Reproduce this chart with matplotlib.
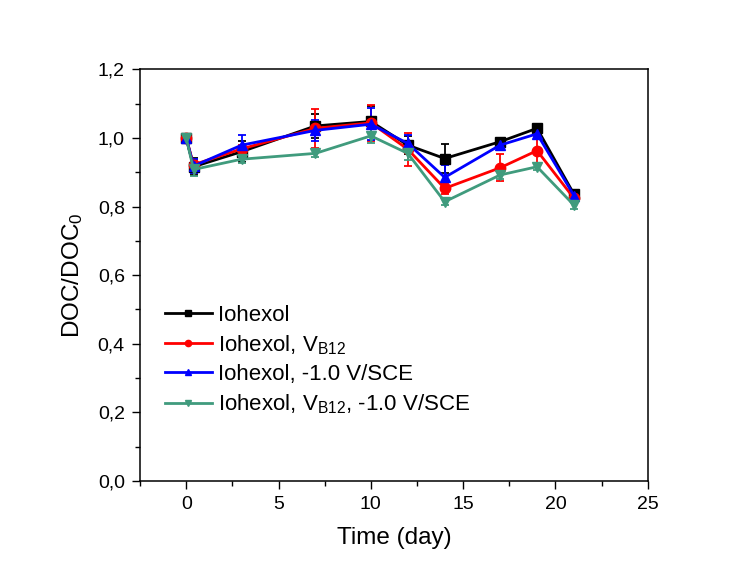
import matplotlib
matplotlib.use("Agg")
import matplotlib.pyplot as plt
from matplotlib.lines import Line2D
from matplotlib.ticker import FuncFormatter, MultipleLocator

plt.rcParams['font.family'] = ['Liberation Sans', 'DejaVu Sans']
plt.rcParams['mathtext.fontset'] = 'custom'
plt.rcParams['mathtext.rm'] = 'Liberation Sans'
plt.rcParams['mathtext.it'] = 'Liberation Sans'

# Data
time = [0, 0.4, 3, 7, 10, 12, 14, 17, 19, 21]

iohexol = [1.0, 0.916, 0.960, 1.035, 1.048, 0.979, 0.940, 0.989, 1.028, 0.836]
iohexol_err = [0.01, 0.025, 0.03, 0.035, 0.045, 0.027, 0.041, 0.01, 0.012, 0.01]

vb12 = [1.0, 0.922, 0.968, 1.028, 1.044, 0.967, 0.853, 0.913, 0.963, 0.824]
vb12_err = [0.01, 0.015, 0.012, 0.056, 0.052, 0.048, 0.015, 0.039, 0.04, 0.012]

volt = [1.0, 0.918, 0.979, 1.022, 1.040, 0.984, 0.885, 0.979, 1.012, 0.832]
volt_err = [0.01, 0.02, 0.031, 0.03, 0.046, 0.025, 0.035, 0.015, 0.015, 0.01]

vb12_volt = [1.0, 0.908, 0.938, 0.955, 1.006, 0.955, 0.814, 0.892, 0.916, 0.804]
vb12_volt_err = [0.01, 0.02, 0.012, 0.01, 0.022, 0.02, 0.01, 0.012, 0.01, 0.01]

labels = ['Iohexol',
          r'Iohexol, V$_\mathregular{B12}$',
          'Iohexol, -1.0 V/SCE',
          r'Iohexol, V$_\mathregular{B12}$, -1.0 V/SCE']

series = [iohexol, vb12, volt, vb12_volt]
errors = [iohexol_err, vb12_err, volt_err, vb12_volt_err]
colors = ['#000000', '#FF0000', '#0000FF', '#409B7D']
markers = ['s', 'o', '^', 'v']

fig = plt.figure(figsize=(7.37, 5.65), dpi=100)
ax = fig.add_axes([0.19, 0.1487, 0.689, 0.7286])

handles = []
for y, e, c, m, lab in zip(series, errors, colors, markers, labels):
    ms = 6.5 if m == 's' else 7.5
    ax.errorbar(time, y, yerr=e, color=c, marker=m, markersize=ms,
                linewidth=2.0, elinewidth=1.3, capsize=3.2, capthick=1.3)
    handles.append(Line2D([], [], color=c, marker=m, markersize=ms * 0.6, linewidth=2.0))

ax.set_xlim(-2.5, 25)
ax.set_ylim(0, 1.2)
ax.xaxis.set_major_locator(MultipleLocator(5))
ax.xaxis.set_minor_locator(MultipleLocator(2.5))
ax.yaxis.set_major_locator(MultipleLocator(0.2))
ax.yaxis.set_minor_locator(MultipleLocator(0.1))
ax.yaxis.set_major_formatter(FuncFormatter(lambda v, p: f"{v:.1f}".replace('.', ',')))
ax.xaxis.set_major_formatter(FuncFormatter(lambda v, p: f"{v:g}"))

ax.tick_params(which='both', direction='out', top=False, right=False, width=1.0, labelsize=14)
ax.tick_params(which='major', length=6, pad=5)
ax.tick_params(which='minor', length=3.5)
for s in ax.spines.values():
    s.set_linewidth(1.1)

ax.set_xlabel('Time (day)', fontsize=17.5, labelpad=10)
ax.set_ylabel(r'DOC/DOC$_\mathregular{0}$', fontsize=17.5, labelpad=9)

leg = ax.legend(handles=handles, labels=labels, loc='upper left',
                bbox_to_anchor=(0.049, 0.428), frameon=False, fontsize=16,
                handlelength=2.1, handletextpad=0.3, labelspacing=0.33,
                borderaxespad=0, borderpad=0)

fig.savefig('out.png', dpi=100)
